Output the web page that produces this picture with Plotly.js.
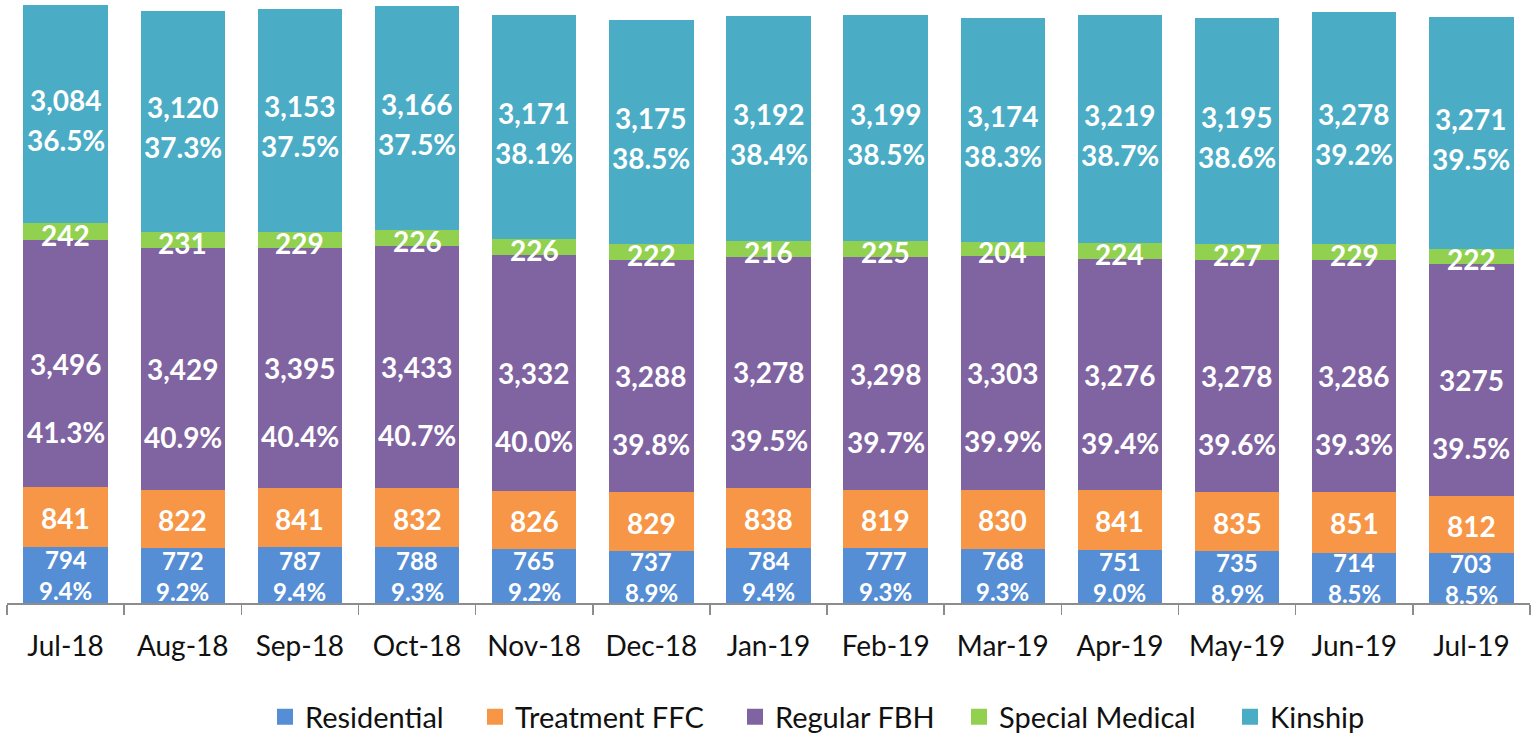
<!DOCTYPE html>
<html>
<head>
<meta charset="utf-8">
<script src="https://cdn.plot.ly/plotly-3.0.1.min.js"></script>
<style>
  html, body { margin: 0; padding: 0; background: #fff; }
  #chart { width: 1532px; height: 735px; }
</style>
</head>
<body>
<div id="chart"></div>
<script>
// ---- Data ----
const months = ['Jul-18','Aug-18','Sep-18','Oct-18','Nov-18','Dec-18','Jan-19','Feb-19','Mar-19','Apr-19','May-19','Jun-19','Jul-19'];

const residential    = [794, 772, 787, 788, 765, 737, 784, 777, 768, 751, 735, 714, 703];
const treatmentFFC   = [841, 822, 841, 832, 826, 829, 838, 819, 830, 841, 835, 851, 812];
const regularFBH     = [3496, 3429, 3395, 3433, 3332, 3288, 3278, 3298, 3303, 3276, 3278, 3286, 3275];
const specialMedical = [242, 231, 229, 226, 226, 222, 216, 225, 204, 224, 227, 229, 222];
const kinship        = [3084, 3120, 3153, 3166, 3171, 3175, 3192, 3199, 3174, 3219, 3195, 3278, 3271];

const residentialPct = ['9.4%','9.2%','9.4%','9.3%','9.2%','8.9%','9.4%','9.3%','9.3%','9.0%','8.9%','8.5%','8.5%'];
const regularFBHPct  = ['41.3%','40.9%','40.4%','40.7%','40.0%','39.8%','39.5%','39.7%','39.9%','39.4%','39.6%','39.3%','39.5%'];
const kinshipPct     = ['36.5%','37.3%','37.5%','37.5%','38.1%','38.5%','38.4%','38.5%','38.3%','38.7%','38.6%','39.2%','39.5%'];

// value label text as printed (last FBH label is printed without a thousands separator)
const regularFBHLabels = ['3,496','3,429','3,395','3,433','3,332','3,288','3,278','3,298','3,303','3,276','3,278','3,286','3275'];

const seriesNames  = ['Residential','Treatment FFC','Regular FBH','Special Medical','Kinship'];
const seriesColors = ['#558ED5','#F79646','#8064A2','#92D050','#4BACC6'];
const seriesValues = [residential, treatmentFFC, regularFBH, specialMedical, kinship];

// ---- Traces: stacked bars ----
const traces = seriesValues.map((vals, i) => ({
  type: 'bar',
  name: seriesNames[i],
  x: months,
  y: vals,
  marker: { color: seriesColors[i], line: { width: 0 } },
  showlegend: false,
  hoverinfo: 'x+y+name'
}));

// ---- Legend entries (one legend per entry so each can be spaced like the reference) ----
const legendIds = ['legend', 'legend2', 'legend3', 'legend4', 'legend5'];
seriesNames.forEach((name, i) => {
  traces.push({
    type: 'scatter',
    mode: 'markers',
    name: name,
    x: [months[0]],
    y: [null],
    marker: { symbol: 'square', size: 16, color: seriesColors[i] },
    showlegend: true,
    legend: legendIds[i],
    hoverinfo: 'skip'
  });
});

// ---- Data labels as annotations positioned from the stacked data ----
const fmt = v => v.toLocaleString('en-US');
const labelFont = size => ({ family: 'Lato, "Open Sans", sans-serif', size: size, color: '#ffffff', weight: 'bold' });
const annotations = [];
const addLabel = (x, y, text, yshift, size) => annotations.push({
  x: x, y: y, xref: 'x', yref: 'y', text: '<b>' + text + '</b>', showarrow: false,
  font: labelFont(size || 28), yshift: yshift, xanchor: 'center', yanchor: 'middle'
});

months.forEach((m, j) => {
  let base = 0;
  const bounds = seriesValues.map(vals => { const b = base; base += vals[j]; return [b, base]; });
  const mid = k => (bounds[k][0] + bounds[k][1]) / 2;
  // Residential: value + percent
  addLabel(m, mid(0), fmt(residential[j]), 15, 24);
  addLabel(m, mid(0), residentialPct[j], -16, 24);
  // Treatment FFC
  addLabel(m, mid(1), fmt(treatmentFFC[j]), -1);
  // Regular FBH
  addLabel(m, mid(2), regularFBHLabels[j], 0);
  addLabel(m, mid(2), regularFBHPct[j], -68);
  // Special Medical
  addLabel(m, mid(3), fmt(specialMedical[j]), -3);
  // Kinship
  addLabel(m, mid(4), fmt(kinship[j]), 14);
  addLabel(m, mid(4), kinshipPct[j], -26);
});

const legendBase = {
  orientation: 'h',
  xref: 'container',
  yref: 'container',
  xanchor: 'left',
  yanchor: 'middle',
  y: 1 - 717 / 735,
  itemsizing: 'trace',
  font: { size: 29, color: '#111111' },
  bgcolor: 'rgba(0,0,0,0)'
};
const legendLefts = [265, 475, 735, 959, 1230];

const layout = {
  width: 1532,
  height: 735,
  barmode: 'stack',
  bargap: 0.28,
  margin: { l: 7, r: 2, t: 2, b: 132, autoexpand: false },
  paper_bgcolor: '#ffffff',
  plot_bgcolor: '#ffffff',
  font: { family: 'Lato, "Open Sans", sans-serif', color: '#111111' },
  xaxis: {
    type: 'category',
    range: [-0.5, 12.5],
    automargin: false,
    showline: true,
    linecolor: '#8c8c8c',
    linewidth: 1.5,
    ticks: 'outside',
    tickson: 'boundaries',
    ticklen: 10,
    tickwidth: 1.5,
    tickcolor: '#8c8c8c',
    ticklabelstandoff: 18,
    tickfont: { size: 28, color: '#111111' },
    showgrid: false,
    zeroline: false,
    fixedrange: true
  },
  yaxis: {
    range: [0, 8500],
    automargin: false,
    visible: false,
    showgrid: false,
    zeroline: false,
    fixedrange: true
  },
  annotations: annotations
};
legendIds.forEach((id, i) => {
  layout[id] = Object.assign({}, legendBase, { x: legendLefts[i] / 1532 });
});

Plotly.newPlot('chart', traces, layout, { displayModeBar: false, staticPlot: true });
</script>
</body>
</html>
